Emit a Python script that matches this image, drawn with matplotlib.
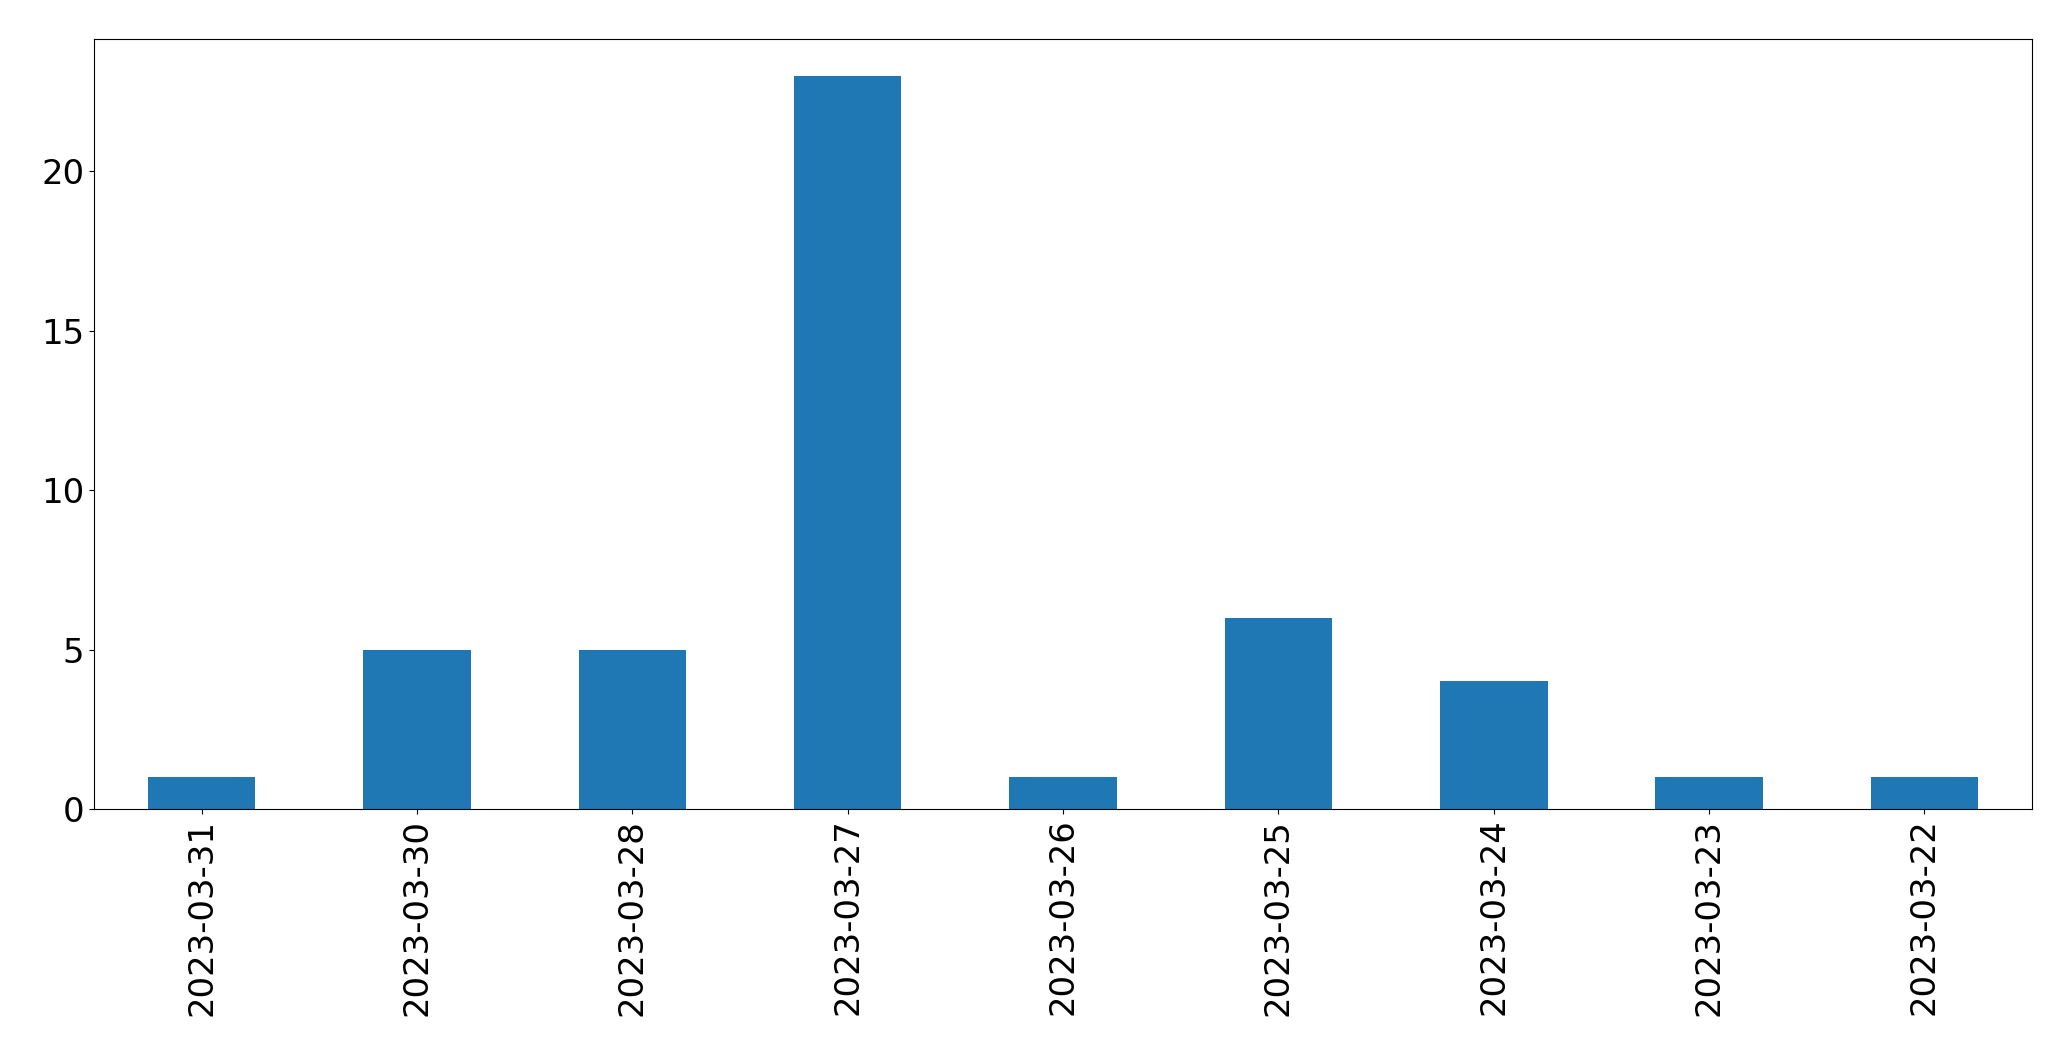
import matplotlib
matplotlib.use("Agg")
import matplotlib.pyplot as plt

dates = ["2023-03-31", "2023-03-30", "2023-03-28", "2023-03-27", "2023-03-26",
         "2023-03-25", "2023-03-24", "2023-03-23", "2023-03-22"]
counts = [1, 5, 5, 23, 1, 6, 4, 1, 1]

W, H = 2071, 1061
fig = plt.figure(figsize=(W / 100, H / 100), dpi=100)
left, right, top, bottom = 94, 2032, 39, 809
ax = fig.add_axes([left / W, 1 - bottom / H, (right - left) / W, (bottom - top) / H])
x = range(len(dates))
ax.bar(x, counts, width=0.5, color="#1f77b4")
ax.set_xlim(-0.5, len(dates) - 0.5)
ax.set_ylim(0, 24.15)
ax.set_xticks(list(x))
ax.set_xticklabels(dates, rotation=90)
ax.set_yticks([0, 5, 10, 15, 20])
ax.tick_params(labelsize=24.4)
fig.savefig("out.png", dpi=100)
